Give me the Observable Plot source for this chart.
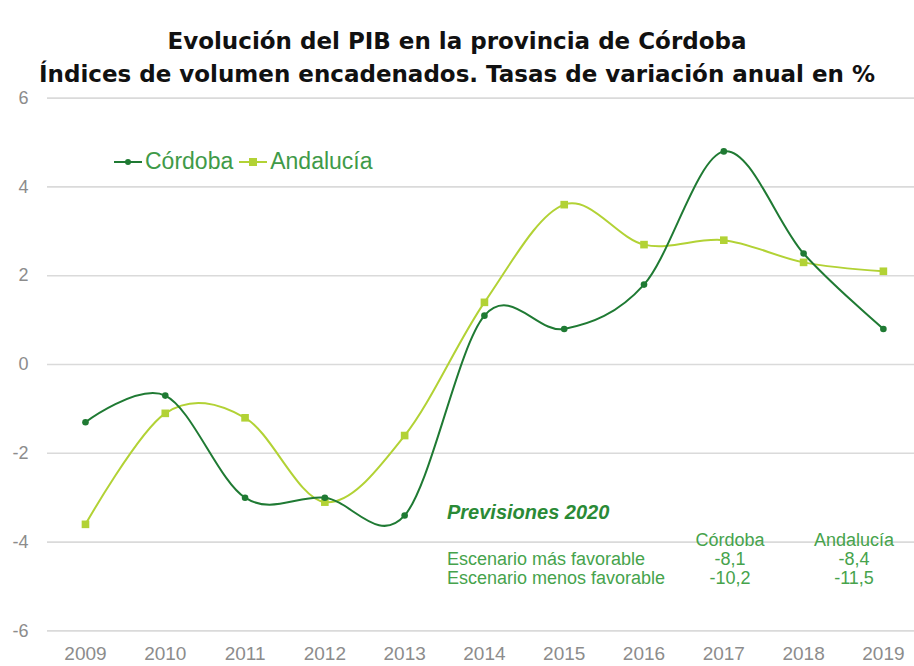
<!DOCTYPE html>
<html>
<head>
<meta charset="utf-8">
<script src="https://cdn.jsdelivr.net/npm/d3@7"></script>
<script src="https://cdn.jsdelivr.net/npm/@observablehq/plot@0.6"></script>
<style>
  body { margin: 0; background: #fff; width: 914px; height: 666px; overflow: hidden; position: relative;
         font-family: "Liberation Sans", Arial, sans-serif; }
  #title { height: 88px; box-sizing: border-box; padding-top: 25px; text-align: center;
           font-family: "DejaVu Sans", sans-serif; font-weight: bold; font-size: 23px; line-height: 33px; color: #111; }
  #legend { position: absolute; left: 113px; top: 148px; display: flex; align-items: center;
            font-size: 23px; color: #3f9a48; white-space: nowrap; }
  #legend svg { display: block; }
  #prev { position: absolute; left: 447px; top: 500px; font-weight: bold; font-style: italic;
          font-size: 20px; line-height: 24px; color: #2a8a36; }
  #tabla { position: absolute; left: 447px; top: 531px; border-collapse: collapse; font-size: 18px;
           line-height: 19px; color: #46a34c; }
  #tabla td { padding: 0; }
  #tabla td.c1 { width: 243px; text-align: left; }
  #tabla td.c2 { width: 80px; text-align: center; }
  #tabla td.c3 { width: 44px; }
  #tabla td.c4 { width: 80px; text-align: center; }
</style>
</head>
<body>
<div id="title"></div>
<div id="chart"></div>
<div id="legend"></div>
<div id="prev"></div>
<table id="tabla"></table>
<script>
// ---- data ----
const titleLines = ["Evolución del PIB en la provincia de Córdoba",
                    "Índices de volumen encadenados. Tasas de variación anual en %"];
const years = [2009, 2010, 2011, 2012, 2013, 2014, 2015, 2016, 2017, 2018, 2019];
const cordoba   = [-1.3, -0.7, -3.0, -3.0, -3.4, 1.1, 0.8, 1.8, 4.8, 2.5, 0.8];
const andalucia = [-3.6, -1.1, -1.2, -3.1, -1.6, 1.4, 3.6, 2.7, 2.8, 2.3, 2.1];
const yTicks = [-6, -4, -2, 0, 2, 4, 6];
const seriesNames = ["Córdoba", "Andalucía"];
const seriesColors = ["#1f7a33", "#b2d235"];
const prevTitle = "Previsiones 2020";
const escenarios = ["Escenario más favorable", "Escenario menos favorable"];
const prevCordoba = ["-8,1", "-10,2"];
const prevAndalucia = ["-8,4", "-11,5"];

// ---- title ----
document.getElementById("title").innerHTML = titleLines.join("<br>");

// ---- chart ----
const rows = (vals) => years.map((y, i) => ({year: y, value: vals[i]}));
const dC = rows(cordoba), dA = rows(andalucia);

const chart = Plot.plot({
  width: 914,
  height: 578,
  marginLeft: 47,
  marginRight: 0,
  marginTop: 9.6,
  marginBottom: 35.6,
  style: {fontFamily: "'Liberation Sans', Arial, sans-serif", background: "#fff"},
  x: {domain: [2008.524, 2019.39], tickSize: 0, label: null},
  y: {domain: [-6, 6], tickSize: 0, label: null},
  marks: [
    Plot.gridY(yTicks, {stroke: "#dadada", strokeOpacity: 1, strokeWidth: 1.6}),
    Plot.axisX({ticks: years, tickFormat: d => String(d), tickSize: 0, tickPadding: 16, fontSize: 19, fill: "#8c8c8c", label: null}),
    Plot.axisY({ticks: yTicks, tickFormat: d => String(d), tickSize: 0, tickPadding: 19, fontSize: 18, fill: "#8c8c8c", label: null}),
    Plot.line(dA, {x: "year", y: "value", stroke: seriesColors[1], strokeWidth: 2, curve: "cardinal", tension: 0}),
    Plot.dot(dA, {x: "year", y: "value", symbol: "square", r: 4.3, fill: seriesColors[1], stroke: "none"}),
    Plot.line(dC, {x: "year", y: "value", stroke: seriesColors[0], strokeWidth: 2, curve: "cardinal", tension: 0}),
    Plot.dot(dC, {x: "year", y: "value", symbol: "circle", r: 3.3, fill: seriesColors[0], stroke: "none"})
  ]
});
document.getElementById("chart").appendChild(chart);

// ---- legend ----
const leg = document.getElementById("legend");
seriesNames.forEach((name, i) => {
  const sw = i === 0
    ? `<svg width="30" height="12"><line x1="1" x2="29" y1="6" y2="6" stroke="${seriesColors[0]}" stroke-width="2"/><circle cx="15" cy="6" r="3" fill="${seriesColors[0]}"/></svg>`
    : `<svg width="30" height="12"><line x1="1" x2="29" y1="6" y2="6" stroke="${seriesColors[1]}" stroke-width="2"/><rect x="11" y="2" width="8" height="8" fill="${seriesColors[1]}"/></svg>`;
  leg.insertAdjacentHTML("beforeend", `${sw}<span style="margin:0 5px 0 2px">${name}</span>`);
});

// ---- previsiones ----
document.getElementById("prev").textContent = prevTitle;
const tabla = document.getElementById("tabla");
tabla.insertAdjacentHTML("beforeend",
  `<tr><td class="c1"></td><td class="c2">${seriesNames[0]}</td><td class="c3"></td><td class="c4">${seriesNames[1]}</td></tr>`);
escenarios.forEach((e, i) => {
  tabla.insertAdjacentHTML("beforeend",
    `<tr><td class="c1">${e}</td><td class="c2">${prevCordoba[i]}</td><td class="c3"></td><td class="c4">${prevAndalucia[i]}</td></tr>`);
});
</script>
</body>
</html>
